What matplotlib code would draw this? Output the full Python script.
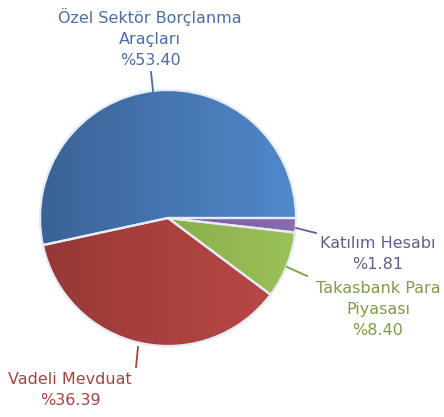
import numpy as np
import matplotlib
matplotlib.use("Agg")
import matplotlib.pyplot as plt
from matplotlib.colors import LinearSegmentedColormap

labels = ["Özel Sektör Borçlanma\nAraçları", "Vadeli Mevduat", "Takasbank Para\nPiyasası", "Katılım Hesabı"]
values = [53.40, 36.39, 8.40, 1.81]
pct_text = ["%53.40", "%36.39", "%8.40", "%1.81"]

dark = ["#3a6296", "#963836", "#789a3e", "#5f4a80"]
light = ["#5089cb", "#bb4a48", "#9cc25a", "#8a6cb0"]
text_colors = ["#4a6ea3", "#a34442", "#7d9c4a", "#6c5790"]

W, H = 444, 417
fig = plt.figure(figsize=(W / 100, H / 100), dpi=100)
ax = fig.add_axes([0, 0, 1, 1])
ax.set_xlim(0, W)
ax.set_ylim(0, H)
ax.set_aspect("equal")
ax.axis("off")

cx, cy, r = 168, 417 - 218, 128
wedges, _ = ax.pie(values, startangle=0, counterclock=True, center=(cx, cy), radius=r,
                   wedgeprops=dict(edgecolor="#e6ecf3", linewidth=1.6))
ax.set_xlim(0, W)
ax.set_ylim(0, H)

grad = np.linspace(0, 1, 256).reshape(1, -1)
for w, d, l in zip(wedges, dark, light):
    w.set_facecolor("none")
    cmap = LinearSegmentedColormap.from_list("g", [d, l])
    im = ax.imshow(grad, cmap=cmap, extent=(cx - r, cx + r, cy - r, cy + r),
                   aspect="auto", zorder=0.5, origin="lower")
    im.set_clip_path(w)
    w.set_zorder(1)

fs = 11.5
ann = [
    (150, 17, [(153, 91), (151, 72)]),
    (70, 381, [(138, 347), (136, 367)]),
    (378, 290, [(287, 267), (307, 276)]),
    (378, 245, [(296, 228), (316, 233)]),
]
for (tx, ty, line), lab, pt, tc in zip(ann, labels, pct_text, text_colors):
    txt = lab + "\n" + pt
    ax.text(tx, H - ty + 9, txt, ha="center", va="top", color=tc, fontsize=fs,
            linespacing=1.5, family="DejaVu Sans")
    (x1, y1), (x2, y2) = line
    ax.plot([x1, x2], [H - y1, H - y2], color=tc, lw=1.3, zorder=3)

fig.savefig("out.png", dpi=100)
